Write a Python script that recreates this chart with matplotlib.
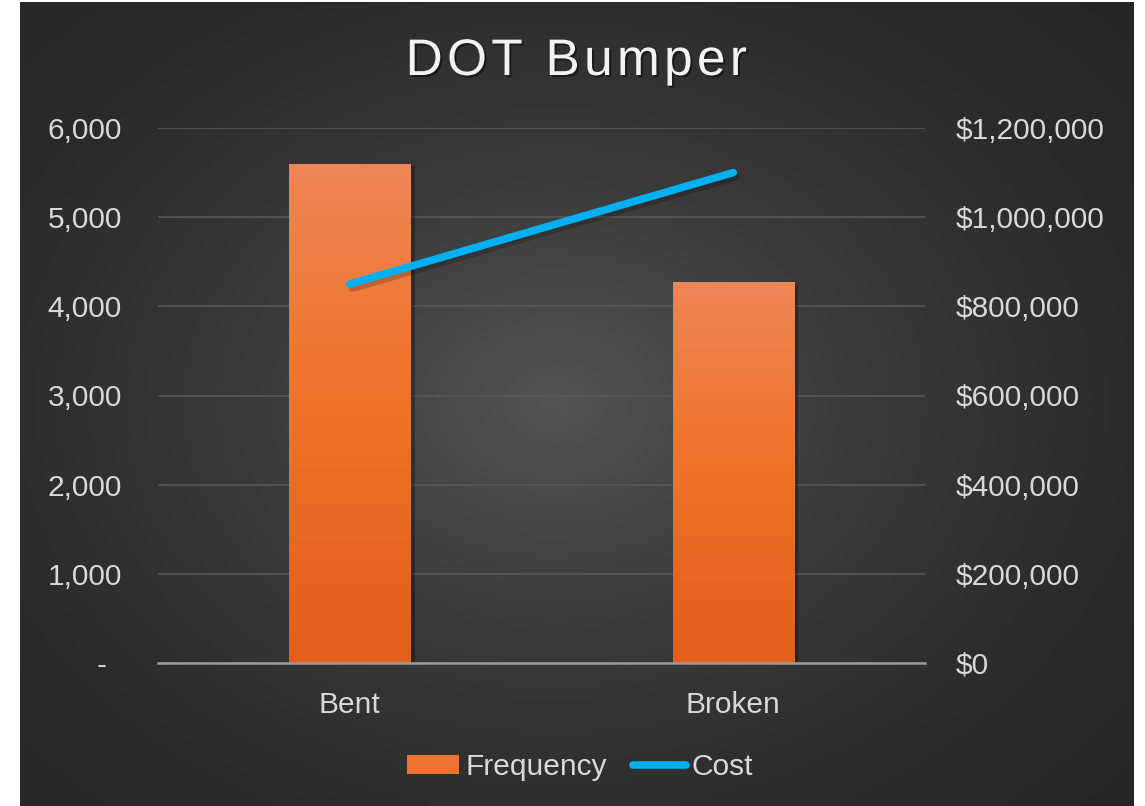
import numpy as np
import matplotlib
matplotlib.use('Agg')
import matplotlib.pyplot as plt
import matplotlib.patheffects as pe
from matplotlib.colors import LinearSegmentedColormap
from matplotlib.lines import Line2D
from matplotlib.patches import Patch
from matplotlib.ticker import FuncFormatter, MultipleLocator

# Dados do gráfico
categorias = ['Bent', 'Broken']
frequencia = [5600, 4270]
custo = [850000, 1100000]
titulo = 'DOT Bumper'

plt.rcParams['font.family'] = ['Liberation Sans', 'DejaVu Sans']

COR_TEXTO = '#d9d9d9'
COR_LINHA = '#00b0f0'
TAM = 21.5

fig = plt.figure(figsize=(11.45, 8.06), dpi=100)
fig.patch.set_facecolor('white')

# Fundo escuro com gradiente radial
fundo = fig.add_axes([20 / 1145, 0, 1114 / 1145, 804 / 806])
fundo.set_axis_off()
yy, xx = np.mgrid[0:1:400j, 0:1:560j]
dist = np.sqrt(((xx - 0.48) / 0.8) ** 2 + ((yy - 0.5) / 0.85) ** 2)
dist = np.clip(dist, 0, 1)
cmap_fundo = LinearSegmentedColormap.from_list('fundo', ['#535353', '#3a3a3a', '#2a2a2a', '#242424'])
fundo.imshow(dist, cmap=cmap_fundo, aspect='auto', extent=[0, 1, 0, 1], vmin=0, vmax=1)

# Eixo principal (barras)
ax = fig.add_axes([158 / 1145, 143 / 806, 767 / 1145, 535 / 806])
ax.set_facecolor('none')
x = np.arange(len(categorias))

barras = ax.bar(x, frequencia, width=0.316, color='#ed7d31', zorder=2,
                path_effects=[pe.SimplePatchShadow(offset=(3, -2), shadow_rgbFace='black', alpha=0.3),
                              pe.Normal()])

# Gradiente vertical nas barras
cmap_barra = LinearSegmentedColormap.from_list('barra', ['#e25e1c', '#f07126', '#ee8656'])
grad = np.linspace(0, 1, 256).reshape(-1, 1)
for b in barras:
    x0, y0 = b.get_x(), b.get_y()
    w, h = b.get_width(), b.get_height()
    im = ax.imshow(grad, cmap=cmap_barra, origin='lower', aspect='auto',
                   extent=[x0, x0 + w, y0, y0 + h], zorder=3)
    im.set_clip_path(b)
ax.set_xlim(-0.5, 1.5)
ax.set_ylim(0, 6000)

# formato contábil: zero vira um traço
ax.yaxis.set_major_locator(MultipleLocator(1000))
ax.yaxis.set_major_formatter(FuncFormatter(lambda v, p: '-\u2002' if v == 0 else f'{int(v):,}'))
ax.grid(axis='y', color='#585858', linewidth=1.2, zorder=0)
ax.set_axisbelow(True)
ax.set_xticks(x)
ax.set_xticklabels(categorias)
for s in ['top', 'right', 'left']:
    ax.spines[s].set_visible(False)
ax.spines['bottom'].set_color('#9a9a9a')
ax.spines['bottom'].set_linewidth(1.8)
ax.spines['bottom'].set_zorder(4)
ax.tick_params(axis='y', length=0, pad=26, labelsize=TAM, labelcolor=COR_TEXTO)
ax.tick_params(axis='x', length=0, pad=20, labelsize=TAM, labelcolor=COR_TEXTO)

# Eixo secundário (custo)
ax2 = ax.twinx()
ax2.set_ylim(0, 1200000)
ax2.yaxis.set_major_locator(MultipleLocator(200000))
ax2.yaxis.set_major_formatter(FuncFormatter(lambda v, p: f'${int(v):,}'))
for s in ax2.spines.values():
    s.set_visible(False)
ax2.tick_params(axis='y', length=0, pad=22, labelsize=TAM, labelcolor=COR_TEXTO)
ax2.plot(x, custo, color=COR_LINHA, linewidth=5.5, solid_capstyle='round', zorder=5,
         path_effects=[pe.SimpleLineShadow(offset=(2, -3), shadow_color='black', alpha=0.2),
                       pe.Normal()])

# Título (com espaçamento entre letras)
fig.text(576 / 1145, 1 - 75 / 806, '\u200a'.join(titulo), ha='center', va='baseline',
         fontsize=37, color='#f2f2f2',
         path_effects=[pe.SimplePatchShadow(offset=(1.5, -1.5), shadow_rgbFace='black', alpha=0.45),
                       pe.Normal()])

# Legenda
handles = [Patch(facecolor='#ee7330', edgecolor='none'),
           Line2D([0], [0], color=COR_LINHA, linewidth=5.5, solid_capstyle='round')]
leg = fig.legend(handles, ['Frequency', 'Cost'], loc='center', ncol=2,
                 bbox_to_anchor=(580 / 1145, 1 - 767 / 806), frameon=False,
                 fontsize=TAM, handlelength=1.75, handletextpad=0.2, columnspacing=0.9,
                 handleheight=0.62)
for t in leg.get_texts():
    t.set_color(COR_TEXTO)

fig.savefig('out.png', dpi=100, facecolor=fig.get_facecolor())
